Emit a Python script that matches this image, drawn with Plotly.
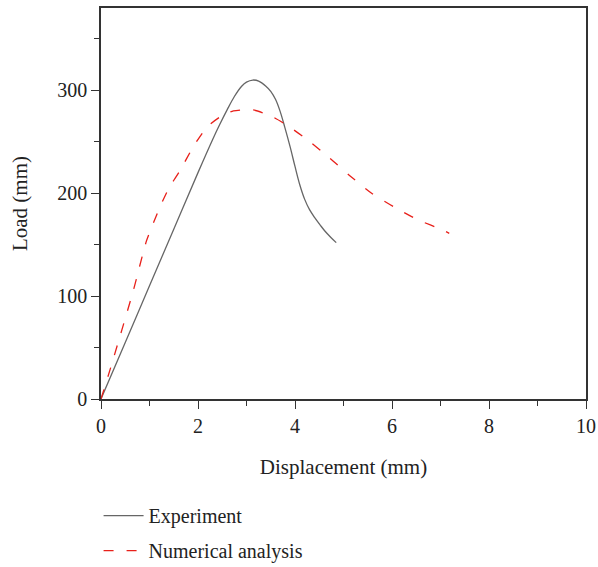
import plotly.graph_objects as go

# Experiment curve
exp_x = [0, 0.5, 1.0, 1.5, 2.0, 2.3, 2.45, 2.6, 2.75, 2.9, 3.0, 3.13, 3.25, 3.4, 3.5, 3.6, 3.69, 3.79,
         3.9, 4.0, 4.1, 4.2, 4.3, 4.41, 4.52, 4.62, 4.74, 4.85]
exp_y = [0, 55, 110, 165, 220, 252, 267, 281, 294, 304, 308, 310, 309, 304, 299, 291, 280, 264,
         245, 226, 208, 194, 184, 176, 169, 163, 157, 152]

# Numerical analysis curve
num_x = [0, 0.19, 0.67, 0.94, 1.22, 1.4, 1.63, 1.9, 2.18, 2.45, 2.73, 3.14, 3.55, 3.9, 4.28, 4.72, 5.13, 5.58, 6.03, 6.54, 7.06, 7.18]
num_y = [0, 29, 106, 154, 187, 205, 222, 245, 264, 274, 280, 281, 274, 264, 251, 234, 217, 200, 187, 174, 164, 161]

x_ticks = [0, 2, 4, 6, 8, 10]
y_ticks = [0, 100, 200, 300]

FONT = "Liberation Serif"
FS = 20
TXT = "#222222"

fig = go.Figure()
fig.add_trace(go.Scatter(x=exp_x, y=exp_y, mode="lines", name="Experiment",
                         line=dict(color="#666666", width=1.3, shape="spline", smoothing=1.0),
                         legendgroup="a"))
fig.add_trace(go.Scatter(x=num_x, y=num_y, mode="lines", name="Numerical analysis",
                         line=dict(color="#e8201a", width=1.3, dash="10px,13px", shape="spline", smoothing=0.6),
                         legendgroup="b"))

axis_common = dict(showline=True, linecolor="#333333", linewidth=1.5, mirror=True,
                   ticks="outside", ticklen=8, tickwidth=1.3, tickcolor="#333333",
                   showgrid=False, zeroline=False, automargin=False,
                   tickfont=dict(family=FONT, size=FS, color=TXT))

fig.update_xaxes(range=[0, 10], tickvals=x_ticks,
                 minor=dict(dtick=1, tick0=0, ticks="outside", ticklen=5, tickwidth=1.3, tickcolor="#333333", showgrid=False),
                 title=dict(text="Displacement (mm)", font=dict(family=FONT, size=21, color=TXT), standoff=24),
                 **axis_common)
fig.update_yaxes(range=[0, 380], tickvals=y_ticks,
                 minor=dict(dtick=50, tick0=0, ticks="outside", ticklen=5, tickwidth=1.3, tickcolor="#333333", showgrid=False),
                 title=dict(text="Load (mm)", font=dict(family=FONT, size=21, color=TXT), standoff=24),
                 **axis_common)

fig.update_layout(width=598, height=567,
                  margin=dict(l=101, r=12, t=8, b=168),
                  paper_bgcolor="white", plot_bgcolor="white",
                  font=dict(family=FONT, size=FS, color=TXT),
                  showlegend=True,
                  legend=dict(x=-0.005, xanchor="left", yref="container", y=0.125, yanchor="top",
                              traceorder="grouped", tracegroupgap=6,
                              font=dict(family=FONT, size=FS, color=TXT),
                              bgcolor="rgba(0,0,0,0)", itemwidth=40))

fig.write_html("out.html")
